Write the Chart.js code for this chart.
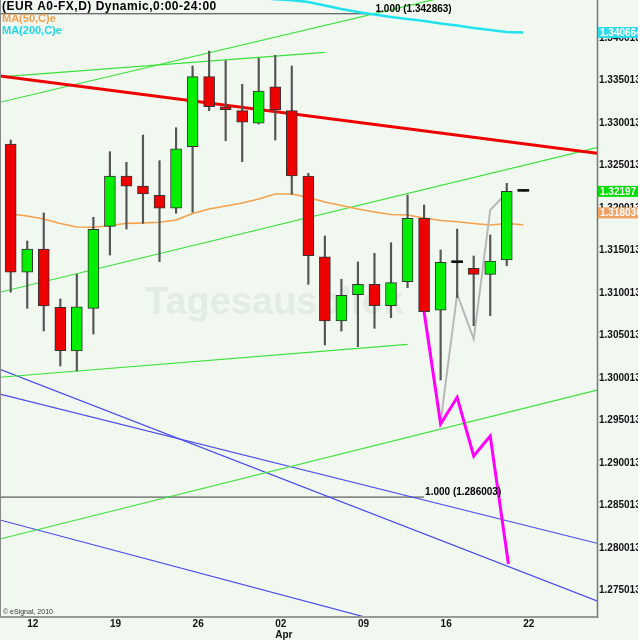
<!DOCTYPE html>
<html><head><meta charset="utf-8">
<script src="https://cdn.jsdelivr.net/npm/chart.js@4.4.1/dist/chart.umd.min.js"></script>
<style>html,body{margin:0;padding:0;background:#f0f8f0;overflow:hidden}canvas{display:block}</style>
</head><body><canvas id="c" width="638" height="640"></canvas>
<script>
// ---- data (bar index 0 = Mar 11 2010, daily) ----
const xIdx   = [0,1,2,3,4,5,6,7,8,9,10,11,12,13,14,15,16,17,18,19,20,21,22,23,24,25,26,27,28,29,30,31];
const opens  = [1.32754,1.31245,1.31519,1.30833,1.30319,1.30821,1.31786,1.32378,1.32260,1.32151,1.31998,1.32723,1.33546,1.33193,1.33146,1.32998,1.33428,1.33146,1.32378,1.31428,1.30672,1.30981,1.31104,1.30852,1.31134,1.31880,1.30798,1.31358,1.31292,1.31221,1.31390,1.32197];
const highs  = [1.32801,1.31613,1.31943,1.30931,1.31221,1.31892,1.32664,1.32539,1.32860,1.32558,1.32946,1.33672,1.33848,1.33734,1.33457,1.33763,1.33798,1.33672,1.32410,1.31672,1.31163,1.31366,1.31468,1.31593,1.32154,1.32037,1.31507,1.31754,1.31437,1.31684,1.32292,1.32197];
const lows   = [1.31010,1.30821,1.30554,1.30143,1.30084,1.30519,1.31448,1.31754,1.31821,1.31370,1.31939,1.31951,1.33146,1.32793,1.32546,1.32990,1.32801,1.32163,1.31104,1.30390,1.30554,1.30370,1.30586,1.30711,1.31064,1.30766,1.29978,1.30946,1.30617,1.30734,1.31323,1.32197];
const closes = [1.31245,1.31519,1.30848,1.30323,1.30840,1.31751,1.32378,1.32257,1.32166,1.31998,1.32696,1.33546,1.33193,1.33158,1.33010,1.33378,1.33154,1.32378,1.31440,1.30672,1.30974,1.31104,1.30852,1.31123,1.31880,1.30781,1.31363,1.31358,1.31221,1.31378,1.32197,1.32197];

const ma50 = [1.31931,1.31907,1.31872,1.31819,1.31778,1.31774,1.31793,1.31821,1.31825,1.31833,1.31860,1.31937,1.31990,1.32025,1.32060,1.32107,1.32166,1.32166,1.32125,1.32072,1.32031,1.31990,1.31954,1.31925,1.31919,1.31884,1.31854,1.31840,1.31819,1.31801,1.31819,1.31804];
const ma200Idx = [15,16,17,18,19,20,21,22,23,24,25,26,27,28,29,30,31];
const ma200    = [1.34472,1.34458,1.34445,1.34425,1.34384,1.34343,1.34307,1.34278,1.34248,1.34225,1.34201,1.34172,1.34148,1.34119,1.34096,1.34072,1.34066];

const projMagentaIdx = [25,26,27,28,29,30.1];
const projMagenta    = [1.30781,1.29460,1.29774,1.29084,1.29319,1.27813];
const projGrayIdx    = [26,27,28,29,30];
const projGray       = [1.29484,1.30990,1.30460,1.31978,1.32178];

const redTrend   = [[-0.65,1.33554],[35.46,1.32645]];
const greenTrends = [
  [[-0.65,1.33245],[35.46,1.34907]],
  [[-0.65,1.33543],[19,1.33833]],
  [[-0.65,1.31010],[35.46,1.32713]],
  [[-0.65,1.30010],[24,1.30398]],
  [[-0.65,1.28107],[35.46,1.29858]]
];
const blueTrends = [
  [[-0.65,1.30104],[35.46,1.27378]],
  [[-0.65,1.29813],[35.46,1.28057]],
  [[-0.65,1.28331],[35.46,1.26463]]
];
const fibLevels = [1.342863, 1.286003];
const fibEndIdx = [22, 25];

const xTickIdx    = [1,6,11,16,21,26,31];
const xTickLabels = ['12','19','26','02','09','16','22'];
const xMonthLabels= ['','','','Apr','','',''];
const yTickValues = [1.340013,1.335013,1.330013,1.325013,1.320013,1.315013,1.310013,1.305013,1.300013,1.295013,1.290013,1.285013,1.280013,1.275013];
const priceLabels = { ma200:'1.340664', close:'1.32197', ma50:'1.318036' };

const legendTitle = '(EUR A0-FX,D) Dynamic,0:00-24:00';
const legendMA50 = 'MA(50,C)e';
const legendMA200 = 'MA(200,C)e';
const watermark = 'Tagesausblick';
const copyright = '\u00A9 eSignal, 2010';

// ---- styles ----
const BG = '#f0f8f0';
const UP = '#00ee00', DOWN = '#ee0000';
const FONT = '"Liberation Sans", Arial, sans-serif';

const seg = p => p.map(([x,y]) => ({x, y}));
const lineDs = (data, color, width, order) => ({
  type:'line', data, borderColor:color, borderWidth:width, pointRadius:0,
  tension:0, fill:false, order
});

const datasets = [];
datasets.push(lineDs(seg(redTrend), '#ee0000', 3, 6));
greenTrends.forEach(t => datasets.push(lineDs(seg(t), '#3ce03c', 1.2, 7)));
blueTrends.forEach(t => datasets.push(lineDs(seg(t), '#4848ee', 1.2, 7)));
fibLevels.forEach((v,k) => datasets.push(lineDs([{x:-2,y:v},{x:fibEndIdx[k],y:v}], '#3a3a3a', 1, 7)));
datasets.push(lineDs(xIdx.map((i,k)=>({x:i,y:ma50[k]})), '#f5a04a', 1.6, 5));
datasets.push(lineDs(ma200Idx.map((i,k)=>({x:i,y:ma200[k]})), '#22e2ee', 2.5, 5));
datasets.push(lineDs(projGrayIdx.map((i,k)=>({x:i,y:projGray[k]})), '#b8b8b8', 2, 4));
datasets.push({
  type:'bar', data: xIdx.map(i=>({x:i, y:[lows[i], highs[i]]})),
  backgroundColor:'#555', borderWidth:0, barThickness:1.5, grouped:false, order:3
});
datasets.push({
  type:'bar', data: xIdx.map(i=>({x:i, y:[opens[i], closes[i]]})),
  backgroundColor: c => { const i=c.dataIndex; if (closes[i]===opens[i]) return '#111'; return closes[i]>opens[i]?UP:DOWN; },
  borderColor: c => { const i=c.dataIndex; return closes[i]===opens[i] ? '#111' : '#333'; },
  borderWidth: c => { const i=c.dataIndex; return closes[i]===opens[i] ? 0 : 1; },
  borderSkipped:false, barThickness:11, minBarLength:2, grouped:false, order:2
});
datasets.push(lineDs(projMagentaIdx.map((i,k)=>({x:i,y:projMagenta[k]})), '#ff00ff', 3, 1));

const decor = {
  id:'decor',
  beforeDraw(chart){
    const ctx = chart.ctx;
    ctx.save(); ctx.fillStyle = BG; ctx.fillRect(0,0,chart.width,chart.height); ctx.restore();
  },
  beforeDatasetsDraw(chart){
    const {ctx, chartArea:a} = chart;
    ctx.save();
    ctx.beginPath(); ctx.rect(a.left,a.top,a.right-a.left,a.bottom-a.top); ctx.clip();
    ctx.font = 'bold 38px ' + FONT;
    ctx.fillStyle = '#e3ece3';
    ctx.textBaseline = 'alphabetic';
    ctx.fillText(watermark, a.left + 145, a.top + 314);
    ctx.restore();
  },
  afterDraw(chart){
    const {ctx, chartArea:a, scales:{x, y}} = chart;
    ctx.save();
    // frame
    ctx.strokeStyle = '#888'; ctx.lineWidth = 1;
    ctx.beginPath(); ctx.moveTo(a.left+0.5, a.top); ctx.lineTo(a.left+0.5, a.bottom); ctx.stroke();
    ctx.strokeStyle = '#999'; ctx.lineWidth = 2;
    ctx.beginPath(); ctx.moveTo(a.left, a.bottom+1); ctx.lineTo(a.right+1, a.bottom+1); ctx.stroke();
    ctx.strokeStyle = '#777'; ctx.lineWidth = 1.5;
    ctx.beginPath(); ctx.moveTo(a.right+0.5, a.top); ctx.lineTo(a.right+0.5, a.bottom+2); ctx.stroke();

    // legend
    ctx.textBaseline = 'middle'; ctx.textAlign = 'left';
    ctx.font = 'bold 12px ' + FONT;
    try { ctx.letterSpacing = '0.5px'; } catch(e) {}
    ctx.fillStyle = '#000';
    ctx.fillText(legendTitle, a.left+2, a.top+6.5);
    try { ctx.letterSpacing = '0px'; } catch(e) {}
    ctx.font = 'bold 11px ' + FONT;
    ctx.fillStyle = '#f2a050'; ctx.fillText(legendMA50, a.left+2, a.top+18.5);
    ctx.fillStyle = '#20d8e8'; ctx.fillText(legendMA200, a.left+2, a.top+31);

    // fib labels
    ctx.font = 'bold 10px ' + FONT;
    ctx.fillStyle = '#000'; ctx.textBaseline = 'alphabetic';
    fibLevels.forEach((v,k) => {
      ctx.fillText('1.000 (' + v.toFixed(6) + ')', x.getPixelForValue(fibEndIdx[k]) + 1, y.getPixelForValue(v) - 2);
    });

    // copyright
    ctx.font = '7px ' + FONT; ctx.fillStyle = '#333';
    ctx.fillText(copyright, a.left+3, a.bottom-2);

    // value boxes on price axis
    const box = (txt, color, yc) => {
      ctx.fillStyle = color; ctx.fillRect(a.right+1, yc-5.5, chart.width-a.right-1, 11);
      ctx.fillStyle = '#fff'; ctx.font = 'bold 10px ' + FONT; ctx.textBaseline = 'middle';
      ctx.fillText(txt, a.right+3, yc+0.5);
    };
    box(priceLabels.ma200, '#2edcec', y.getPixelForValue(ma200[ma200.length-1]));
    const gy = y.getPixelForValue(closes[30]);
    box(priceLabels.close, '#00dd00', gy);
    box(priceLabels.ma50, '#f0a060', gy + 21.5);
    ctx.restore();
  }
};

new Chart(document.getElementById('c'), {
  type:'line',
  data:{ datasets },
  plugins:[decor],
  options:{
    responsive:false, animation:false, events:[],
    layout:{ padding:0 },
    plugins:{ legend:{display:false}, tooltip:{enabled:false} },
    scales:{
      x:{
        type:'linear', min:-0.647, max:35.457, offset:false,
        afterBuildTicks: s => { s.ticks = xTickIdx.map(v=>({value:v})); },
        afterFit: s => { s.height = 24; s.paddingLeft = 0; s.paddingRight = 0; },
        grid:{ drawOnChartArea:false, drawTicks:true, tickLength:2, color:'#777', offset:false },
        border:{ display:false },
        ticks:{
          align:'start', maxRotation:0, autoSkip:false, padding:0, color:'#111',
          font:{ family:'"Liberation Sans Narrow", "Liberation Sans", Arial', size:10, weight:'bold', lineHeight:1.15 },
          callback: (v, i) => xMonthLabels[i] ? [xTickLabels[i], xMonthLabels[i]] : xTickLabels[i]
        }
      },
      y:{
        type:'linear', position:'right', min:1.272013, max:1.344484,
        afterBuildTicks: s => { s.ticks = yTickValues.map(v=>({value:v})); },
        afterFit: s => { s.width = 41; s.paddingTop = 0; s.paddingBottom = 0; },
        grid:{ display:false, drawTicks:false },
        border:{ display:false },
        ticks:{ padding:2, color:'#111', autoSkip:false,
          font:{ family:FONT, size:10, weight:'bold' },
          callback: v => Number(v).toFixed(6) }
      }
    }
  }
});
</script>
</body></html>
